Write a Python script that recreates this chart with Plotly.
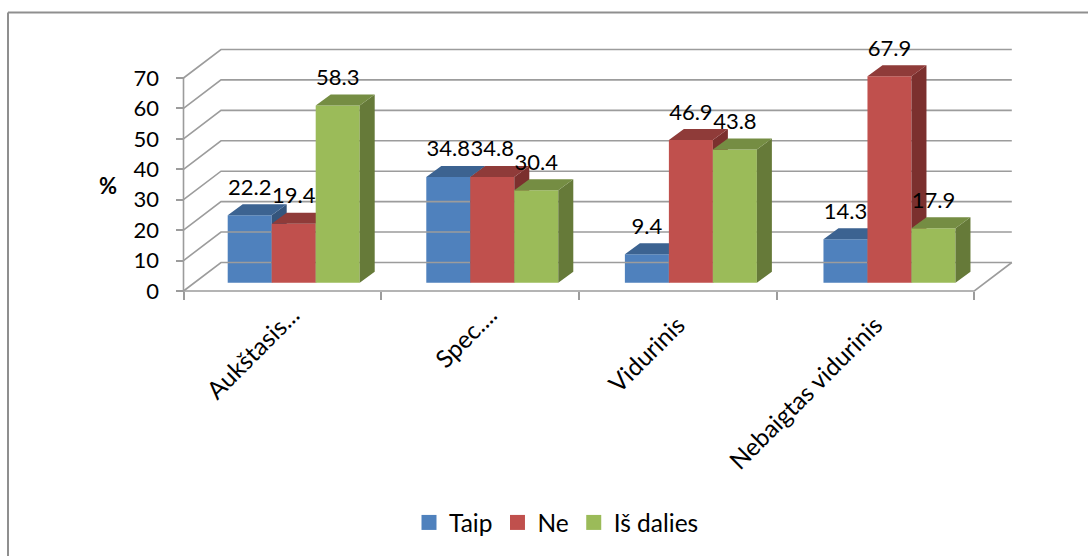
import plotly.graph_objects as go

# Survey answers by education level, in percent
categories = ["Aukštasis...", "Spec....", "Vidurinis", "Nebaigtas vidurinis"]
series_names = ["Taip", "Ne", "Iš dalies"]
taip = [22.2, 34.8, 9.4, 14.3]
ne = [19.4, 34.8, 46.9, 67.9]
is_dalies = [58.3, 30.4, 43.8, 17.9]
y_ticks = [0, 10, 20, 30, 40, 50, 60, 70]

front_colors = ["#4F81BD", "#C0504D", "#9BBB59"]
top_colors = ["#3C6391", "#8F3B39", "#758D43"]
side_colors = ["#34557C", "#7B302E", "#667A39"]

WIDTH, HEIGHT = 1088, 556
# Pixel scale of the full-page plotting area
ORIGIN_X, ORIGIN_Y = 183.5, 291.0
PX_PER_CAT = 197.7
PX_PER_UNIT = 3.043


def dx(px):
    return px / PX_PER_CAT


def dy(px):
    return px / PX_PER_UNIT


x_range = [-dx(ORIGIN_X), dx(WIDTH - ORIGIN_X)]
y_range = [-dy(HEIGHT - ORIGIN_Y), dy(ORIGIN_Y)]

# Oblique projection: back wall offset and bar depth
WALL_DX, WALL_DY = dx(37.5), dy(28.5)
BAR_DX, BAR_DY = dx(15), dy(11)
FLOOR_LIFT = dy(8.2)
GROUP_START, GROUP_PITCH = dx(44.2), 1.0045
BAR_W = dx(44)
LABEL_GAP = dy(26)

FONT = "Lato, Carlito, sans-serif"
DIGIT_SIZE = 22
TEXT_SIZE = 24.5
GRID = "#9C9C9C"
N_CAT = len(categories)

# Back wall, left wall and floor outline
wall_x, wall_y = [], []
for t in y_ticks:
    wall_x += [0, WALL_DX, N_CAT + WALL_DX, None]
    wall_y += [t, t + WALL_DY, t + WALL_DY, None]
wall_x += [0, 0, None, 0, N_CAT, N_CAT + WALL_DX]
wall_y += [y_ticks[0], y_ticks[-1], None, 0, 0, WALL_DY]

fig = go.Figure()
fig.add_trace(go.Scatter(x=wall_x, y=wall_y, mode="lines", line=dict(color=GRID, width=1.6),
                         hoverinfo="skip", showlegend=False))


def label_axis(first, last, standoff, shift_px):
    """Category label axis for categories[first:last], with the tick marks left to xaxis."""
    return dict(range=x_range, domain=[0, 1], overlaying="x", anchor="free",
                position=1 - ORIGIN_Y / HEIGHT, side="bottom", tickmode="array",
                tickvals=[i + 0.5 + dx(shift_px) for i in range(first, last)],
                ticktext=categories[first:last], tickangle=-45, ticks="",
                ticklabelstandoff=standoff,
                tickfont=dict(family=FONT, size=TEXT_SIZE, color="#000000"),
                showgrid=False, zeroline=False, showline=False, fixedrange=True)


# The shortened labels sit a little higher than the full ones
for axis_name in ["x2", "x3"]:
    fig.add_trace(go.Scatter(x=[0], y=[None], xaxis=axis_name, mode="markers",
                             hoverinfo="skip", showlegend=False))

# Each series sits on its own overlaid y axis, so later series paint over earlier ones
for s, (name, values) in enumerate(zip(series_names, [taip, ne, is_dalies])):
    axis = "y" if s == 0 else f"y{s + 1}"
    lefts = [GROUP_START + i * GROUP_PITCH + s * BAR_W for i in range(N_CAT)]
    fig.add_trace(go.Bar(x=[l + BAR_W / 2 for l in lefts], y=values, base=FLOOR_LIFT, width=BAR_W,
                         yaxis=axis, marker=dict(color=front_colors[s], line=dict(width=0)),
                         name=name, showlegend=False))
    top_x, top_y, side_x, side_y = [], [], [], []
    for left, v in zip(lefts, values):
        right = left + BAR_W
        t = v + FLOOR_LIFT
        top_x += [left, right, right + BAR_DX, left + BAR_DX, left, None]
        top_y += [t, t, t + BAR_DY, t + BAR_DY, t, None]
        side_x += [right, right + BAR_DX, right + BAR_DX, right, right, None]
        side_y += [t, t + BAR_DY, FLOOR_LIFT + BAR_DY, FLOOR_LIFT, t, None]
    fig.add_trace(go.Scatter(x=side_x, y=side_y, yaxis=axis, mode="lines", fill="toself",
                             fillcolor=side_colors[s], line=dict(width=0),
                             hoverinfo="skip", showlegend=False))
    fig.add_trace(go.Scatter(x=top_x, y=top_y, yaxis=axis, mode="lines", fill="toself",
                             fillcolor=top_colors[s], line=dict(width=0),
                             hoverinfo="skip", showlegend=False))

# Value labels go on the top layer
for s, values in enumerate([taip, ne, is_dalies]):
    lefts = [GROUP_START + i * GROUP_PITCH + s * BAR_W for i in range(N_CAT)]
    fig.add_trace(go.Scatter(x=[l + BAR_W / 2 for l in lefts],
                             y=[v + FLOOR_LIFT + LABEL_GAP for v in values],
                             yaxis="y3", mode="text", text=[f"{v:.1f}" for v in values],
                             textposition="middle center",
                             textfont=dict(family=FONT, size=DIGIT_SIZE, color="#000000"),
                             hoverinfo="skip", showlegend=False))

# Legend entries
for name, color in zip(series_names, front_colors):
    fig.add_trace(go.Scatter(x=[None], y=[None], mode="markers", name=name,
                             marker=dict(symbol="square", size=15, color=color)))

hidden_y = dict(range=y_range, domain=[0, 1], overlaying="y", visible=False, fixedrange=True)
fig.update_layout(
    width=WIDTH, height=HEIGHT, autosize=False,
    margin=dict(l=0, r=0, t=0, b=0),
    paper_bgcolor="white", plot_bgcolor="white",
    barmode="overlay",
    font=dict(family=FONT, size=DIGIT_SIZE, color="#000000"),
    xaxis=dict(range=x_range, domain=[0, 1], anchor="free", position=1 - ORIGIN_Y / HEIGHT,
               tickmode="array", tickvals=list(range(N_CAT + 1)), showticklabels=False,
               ticks="outside", ticklen=8, tickwidth=1.6, tickcolor=GRID,
               showgrid=False, zeroline=False, showline=False, fixedrange=True),
    xaxis2=label_axis(0, 2, 4, 10),
    xaxis3=label_axis(2, 4, 14, 0),
    yaxis=dict(range=y_range, domain=[0, 1], anchor="free", position=ORIGIN_X / WIDTH,
               tickmode="array", tickvals=y_ticks, ticks="outside", ticklen=8, tickwidth=1.6,
               tickcolor=GRID, ticklabelstandoff=12,
               tickfont=dict(family=FONT, size=DIGIT_SIZE, color="#000000"),
               showgrid=False, zeroline=False, showline=False, fixedrange=True),
    yaxis2=hidden_y,
    yaxis3=hidden_y,
    legend=dict(orientation="h", x=409 / WIDTH, xanchor="left", y=1 - 500 / HEIGHT, yanchor="top",
                font=dict(family=FONT, size=TEXT_SIZE), itemwidth=30, bgcolor="rgba(0,0,0,0)"),
    annotations=[dict(text="<b>%</b>", xref="paper", yref="paper", x=108 / WIDTH, y=1 - 186 / HEIGHT,
                      showarrow=False, xanchor="center", yanchor="middle",
                      font=dict(family=FONT, size=22, color="#000000"))],
    # Chart frame: only the left and top edges are drawn
    shapes=[dict(type="line", xref="paper", yref="paper", x0=8 / WIDTH, x1=8 / WIDTH, y0=0,
                 y1=1 - 12.5 / HEIGHT, line=dict(color="#8F8F8F", width=2)),
            dict(type="line", xref="paper", yref="paper", x0=8 / WIDTH, x1=1, y0=1 - 12.5 / HEIGHT,
                 y1=1 - 12.5 / HEIGHT, line=dict(color="#8F8F8F", width=2))],
)

fig.write_html("out.html")
